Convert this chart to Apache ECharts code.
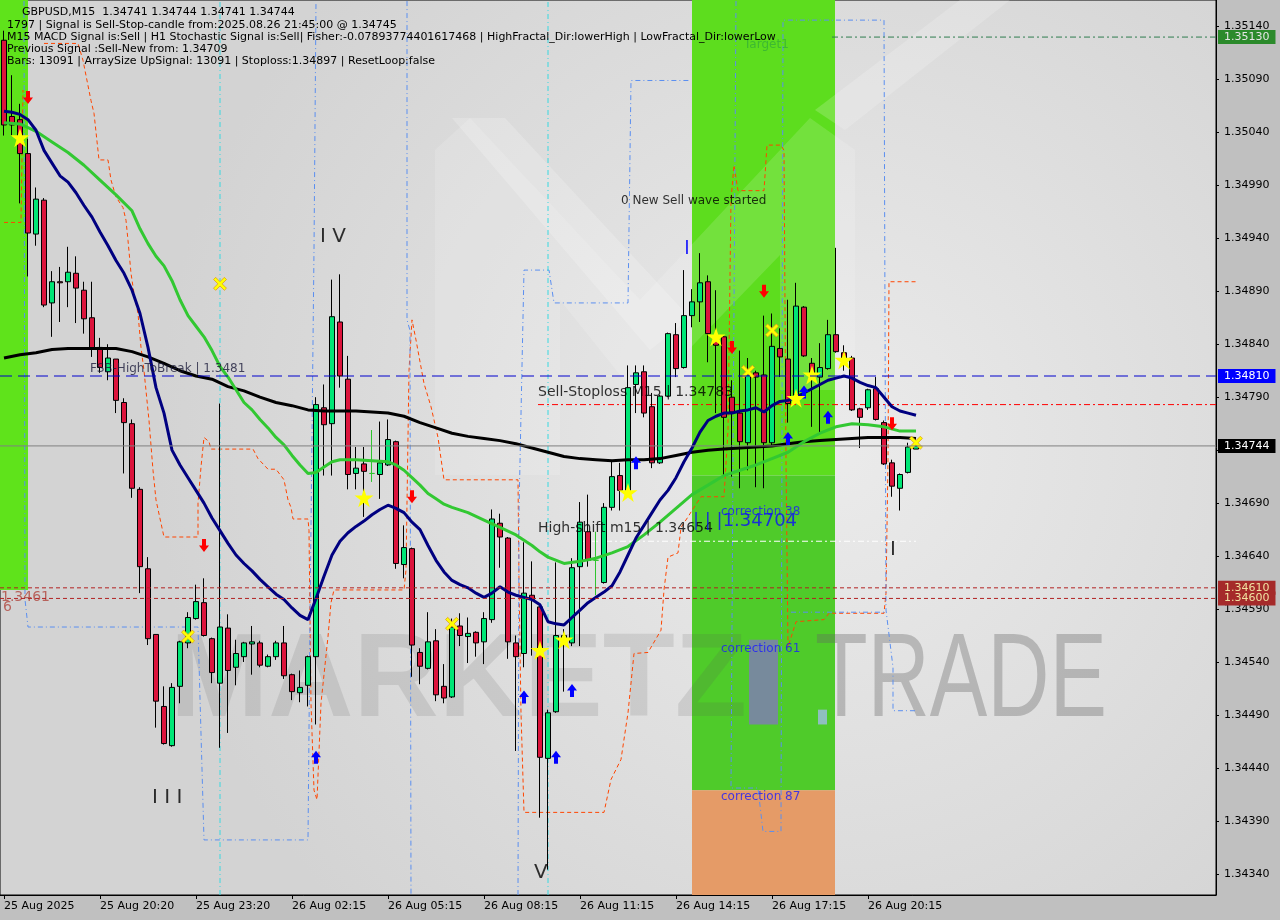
<!DOCTYPE html>
<html><head><meta charset="utf-8">
<script src="https://cdn.jsdelivr.net/npm/echarts@6/dist/echarts.min.js"></script>
<style>html,body{margin:0;padding:0;background:#c0c0c0;}#c{width:1280px;height:920px;}</style>
</head><body><div id="c"></div>
<script>
// ---------------- DATA ----------------
const xTickIdx = [0,12,24,36,48,60,72,84,96,108];
const xTickText = ['25 Aug 2025','25 Aug 20:20','25 Aug 23:20','26 Aug 02:15','26 Aug 05:15','26 Aug 08:15','26 Aug 11:15','26 Aug 14:15','26 Aug 17:15','26 Aug 20:15'];
const slotCount = 152;
const yTicks = [1.34340,1.34390,1.34440,1.34490,1.34540,1.34590,1.34640,1.34690,1.34740,1.34790,1.34840,1.34890,1.34940,1.34990,1.35040,1.35090,1.35140];
const yMin = 1.34320, yMax = 1.35165;

const O = [1.35127,1.35055,1.35052,1.35020,1.34944,1.34976,1.34879,1.34899,1.34899,1.34907,
1.34891,1.34865,1.34837,1.34814,1.34826,1.34785,1.34765,1.34703,1.34628,1.34566,
1.34498,1.34461,1.34517,1.34558,1.34581,1.34596,1.34562,1.34520,1.34572,1.34535,
1.34545,1.34557,1.34558,1.34536,1.34545,1.34558,1.34528,1.34511,1.34518,1.34545,
1.34780,1.34765,1.34861,1.34807,1.34718,1.34727,1.34718,1.34717,1.34726,1.34748,
1.34632,1.34647,1.34549,1.34534,1.34560,1.34517,1.34507,1.34574,1.34564,1.34568,
1.34559,1.34580,1.34671,1.34657,1.34558,1.34548,1.34603,1.34592,1.34449,1.34493,
1.34559,1.34558,1.34630,1.34663,1.34636,1.34615,1.34686,1.34716,1.34702,1.34802,
1.34814,1.34781,1.34728,1.34791,1.34849,1.34818,1.34867,1.34880,1.34899,1.34848,
1.34847,1.34790,1.34775,1.34747,1.34813,1.34811,1.34747,1.34836,1.34826,1.34792,
1.34875,1.34822,1.34809,1.34817,1.34849,1.34832,1.34827,1.34779,1.34780,1.34798,
1.34766,1.34728,1.34704,1.34719,1.34741];
const H = [1.35136,1.35094,1.35067,1.35034,1.34988,1.34978,1.34909,1.34913,1.34932,1.34923,
1.34899,1.34899,1.34846,1.34840,1.34826,1.34789,1.34769,1.34705,1.34639,1.34566,
1.34517,1.34520,1.34560,1.34587,1.34613,1.34619,1.34563,1.34784,1.34585,1.34561,
1.34559,1.34574,1.34560,1.34547,1.34560,1.34574,1.34529,1.34532,1.34546,1.34790,
1.34802,1.34901,1.34906,1.34829,1.34743,1.34743,1.34759,1.34767,1.34769,1.34749,
1.34669,1.34648,1.34553,1.34587,1.34571,1.34538,1.34581,1.34586,1.34582,1.34569,
1.34587,1.34684,1.34680,1.34658,1.34565,1.34653,1.34635,1.34593,1.34495,1.34634,
1.34571,1.34638,1.34691,1.34698,1.34663,1.34690,1.34729,1.34728,1.34820,1.34820,
1.34820,1.34794,1.34792,1.34851,1.34860,1.34910,1.34892,1.34926,1.34905,1.34891,
1.34848,1.34806,1.34834,1.34827,1.34815,1.34867,1.34869,1.34855,1.34882,1.34898,
1.34876,1.34827,1.34841,1.34863,1.34931,1.34839,1.34829,1.34780,1.34798,1.34809,
1.34768,1.34731,1.34718,1.34747,1.34744];
const L = [1.35037,1.35037,1.34973,1.34904,1.34933,1.34875,1.34847,1.34861,1.34875,1.34860,
1.34850,1.34828,1.34813,1.34806,1.34775,1.34718,1.34695,1.34605,1.34556,1.34478,
1.34462,1.34460,1.34501,1.34553,1.34580,1.34564,1.34520,1.34459,1.34473,1.34518,
1.34540,1.34528,1.34535,1.34535,1.34542,1.34524,1.34504,1.34502,1.34498,1.34481,
1.34716,1.34716,1.34799,1.34703,1.34703,1.34677,1.34710,1.34694,1.34725,1.34628,
1.34619,1.34526,1.34519,1.34533,1.34503,1.34501,1.34506,1.34555,1.34539,1.34545,
1.34538,1.34577,1.34629,1.34543,1.34456,1.34535,1.34546,1.34393,1.34344,1.34492,
1.34512,1.34555,1.34555,1.34630,1.34603,1.34614,1.34683,1.34683,1.34699,1.34775,
1.34771,1.34723,1.34727,1.34790,1.34809,1.34817,1.34856,1.34861,1.34823,1.34775,
1.34715,1.34715,1.34704,1.34721,1.34705,1.34704,1.34743,1.34809,1.34766,1.34790,
1.34828,1.34762,1.34756,1.34816,1.34832,1.34815,1.34777,1.34742,1.34778,1.34768,
1.34726,1.34696,1.34683,1.34718,1.34741];
const C = [1.35047,1.35047,1.35020,1.34945,1.34977,1.34877,1.34899,1.34898,1.34908,1.34893,
1.34864,1.34836,1.34818,1.34827,1.34787,1.34766,1.34704,1.34630,1.34562,1.34503,
1.34463,1.34516,1.34559,1.34582,1.34597,1.34565,1.34530,1.34573,1.34532,1.34548,
1.34558,1.34559,1.34537,1.34545,1.34558,1.34527,1.34512,1.34516,1.34545,1.34783,
1.34764,1.34866,1.34810,1.34717,1.34723,1.34720,1.34718,1.34728,1.34750,1.34633,
1.34648,1.34556,1.34536,1.34559,1.34509,1.34506,1.34573,1.34565,1.34567,1.34558,
1.34581,1.34675,1.34658,1.34559,1.34545,1.34605,1.34599,1.34450,1.34492,1.34565,
1.34565,1.34629,1.34672,1.34636,1.34636,1.34686,1.34715,1.34702,1.34799,1.34813,
1.34775,1.34728,1.34791,1.34850,1.34817,1.34867,1.34880,1.34898,1.34850,1.34839,
1.34771,1.34776,1.34748,1.34811,1.34809,1.34747,1.34838,1.34828,1.34784,1.34876,
1.34829,1.34811,1.34818,1.34849,1.34833,1.34827,1.34778,1.34771,1.34797,1.34769,
1.34727,1.34706,1.34717,1.34743,1.34744];

const navyMA = [1.35060,1.35059,1.35057,1.35052,1.35042,1.35023,1.35011,1.34999,1.34993,1.34983,
1.34971,1.34960,1.34946,1.34933,1.34919,1.34907,1.34891,1.34869,1.34837,1.34799,
1.34775,1.34740,1.34726,1.34714,1.34702,1.34690,1.34676,1.34664,1.34652,1.34641,
1.34633,1.34626,1.34618,1.34611,1.34604,1.34599,1.34591,1.34584,1.34580,1.34600,
1.34621,1.34641,1.34654,1.34662,1.34668,1.34673,1.34679,1.34684,1.34688,1.34685,
1.34681,1.34672,1.34665,1.34650,1.34636,1.34625,1.34617,1.34613,1.34610,1.34605,
1.34601,1.34605,1.34611,1.34606,1.34603,1.34601,1.34599,1.34594,1.34578,1.34576,
1.34575,1.34582,1.34589,1.34596,1.34601,1.34606,1.34612,1.34625,1.34641,1.34657,
1.34669,1.34681,1.34693,1.34702,1.34714,1.34729,1.34742,1.34757,1.34768,1.34772,
1.34775,1.34775,1.34777,1.34778,1.34780,1.34776,1.34782,1.34786,1.34787,1.34790,
1.34794,1.34798,1.34802,1.34806,1.34808,1.34810,1.34808,1.34804,1.34801,1.34799,
1.34790,1.34781,1.34777,1.34775,1.34773];

const greenMA = [[0,1.35049],[2,1.35048],[4,1.35041],[6,1.35031],[8,1.35021],[10,1.35009],[12,1.34995],[14,1.34981],[16,1.34966],[17,1.34949],[18,1.34935],[19,1.34923],[20,1.34914],[21,1.34900],[22,1.34882],[23,1.34867],[24,1.34857],[25,1.34847],[26,1.34834],[27,1.34819],[28,1.34809],[29,1.34797],[30,1.34785],[31,1.34778],[32,1.34769],[33,1.34761],[34,1.34752],[35,1.34745],[36,1.34735],[37,1.34726],[38,1.34718],[39,1.34719],[40,1.34724],[41,1.34729],[42,1.34731],[44,1.34731],[46,1.34730],[48,1.34729],[49,1.34726],[50,1.34721],[51,1.34714],[52,1.34707],[53,1.34699],[54,1.34694],[55,1.34689],[56,1.34686],[58,1.34681],[60,1.34674],[62,1.34667],[64,1.34660],[66,1.34650],[67,1.34644],[68,1.34639],[70,1.34633],[72,1.34635],[74,1.34638],[76,1.34643],[78,1.34649],[80,1.34660],[82,1.34672],[84,1.34685],[86,1.34698],[88,1.34707],[90,1.34716],[92,1.34721],[94,1.34726],[96,1.34732],[98,1.34738],[100,1.34748],[102,1.34756],[104,1.34762],[106,1.34765],[108,1.34764],[110,1.34762],[112,1.34758],[114,1.34758]];

const blackMA = [[0,1.34827],[2,1.34830],[4,1.34832],[6,1.34835],[8,1.34836],[12,1.34836],[14,1.34836],[16,1.34833],[18,1.34828],[20,1.34822],[22,1.34815],[24,1.34810],[26,1.34807],[28,1.34800],[30,1.34796],[32,1.34790],[34,1.34785],[36,1.34782],[38,1.34778],[40,1.34777],[42,1.34777],[44,1.34777],[46,1.34776],[48,1.34775],[50,1.34772],[52,1.34766],[54,1.34761],[56,1.34756],[58,1.34753],[60,1.34751],[62,1.34749],[64,1.34746],[66,1.34742],[68,1.34738],[70,1.34734],[72,1.34732],[74,1.34731],[76,1.34730],[78,1.34731],[80,1.34731],[82,1.34732],[84,1.34735],[86,1.34738],[88,1.34740],[90,1.34741],[92,1.34742],[94,1.34743],[96,1.34744],[98,1.34746],[100,1.34748],[102,1.34749],[104,1.34750],[106,1.34751],[108,1.34752],[112,1.34752],[114,1.34751]];

const orangeStepA = [[0,1.34955],[2.125,1.34955],[2.375,1.35080]];
const orangeStepB = [[5,1.35124],[9.25,1.35124],[9.875,1.35108],[10.875,1.35070],[11.25,1.35058],[11.875,1.35014],[13,1.35014],[13.375,1.34995],[14,1.34979],[14.875,1.34969],[15.25,1.34957],[15.5,1.34938],[15.875,1.34907],[16.25,1.34888],[16.75,1.34869],[17.125,1.34837],[17.5,1.34815],[18.125,1.34768],[18.625,1.34721],[19,1.34693],[19.625,1.34671],[20,1.34658],[24.25,1.34658],[24.25,1.34690],[24.625,1.34724],[25,1.34752],[25.625,1.34748],[25.875,1.34741],[31.125,1.34741],[31.75,1.34732],[33,1.34722],[34,1.34722],[35,1.34712],[35.5,1.34693],[35.875,1.34686],[36.125,1.34675],[38,1.34675],[38.125,1.34664],[38.375,1.34501],[38.75,1.34419],[39.125,1.34410],[39.625,1.34501],[40.5,1.34564],[40.875,1.34596],[41.25,1.34608],[50,1.34608],[50.25,1.34627],[50.625,1.34815],[51,1.34863],[51.5,1.34844],[52.5,1.34803],[53.375,1.34781],[54.25,1.34752],[55,1.34712],[64.25,1.34712],[64.375,1.34617],[64.625,1.34492],[65,1.34398],[75,1.34398],[75.875,1.34429],[77.125,1.34448],[78,1.34492],[78.75,1.34548],[80.5,1.34549],[82.125,1.34570],[82.5,1.34608],[83,1.34639],[84.25,1.34643],[84.625,1.34667],[85.5,1.34677],[86.25,1.34686],[87.125,1.34696],[90,1.34696],[90.5,1.34759],[90.875,1.34976],[91.25,1.35009],[91.75,1.34985],[95,1.34985],[95.375,1.35028],[97.125,1.35028],[97.5,1.35023],[97.75,1.34731],[98,1.34554],[99,1.34578],[102.5,1.34580],[103.125,1.34586],[110,1.34586],[110.25,1.34605],[110.5,1.34731],[110.625,1.34899],[114,1.34899]];

const blueStepA = [[2.5,1.35164],[2.625,1.34599],[3,1.34573],[24.25,1.34573],[25,1.34372],[38,1.34372],[38.25,1.34580],[38.75,1.34929],[39,1.35164]];
const blueStepB = [[50.375,1.35164],[50.375,1.34863],[50.75,1.34853],[50.875,1.34320]];
const blueStepC = [[64.25,1.34320],[64.375,1.34683],[65,1.34910],[68.125,1.34910],[68.75,1.34879],[78,1.34879],[78.375,1.35089],[85.875,1.35089]];
const blueStepD = [[91.5,1.35164],[91.125,1.34731],[90.875,1.34421],[94.25,1.34421],[94.875,1.34380],[97.125,1.34380],[97.375,1.35146],[110,1.35146],[110.25,1.34589],[111.125,1.34535],[111.125,1.34494],[114,1.34494]];
const blueStepE = [[98.375,1.34587],[110,1.34587]];

const cyanVerticals = [27, 68];

const levelPrice = [1.35130, 1.34810, 1.34783, 1.34744, 1.34654, 1.34610, 1.34600];
const levelFrom  = [103.5, -0.5, 66.75, -0.5, 71.75, -0.5, -0.5];
const levelTo    = [151.5, 151.5, 151.5, 151.5, 114, 151.5, 151.5];

// zones: [xFrom, xTo, priceLow, priceHigh]
const zones = [[-0.5,3,1.34608,1.35165],[86,103.875,1.34716,1.35165],[86,103.875,1.34419,1.34716],[86,103.875,1.34320,1.34419],[93.125,96.75,1.34481,1.34561],[101.75,102.875,1.34481,1.34495]];

const downArrows = [[3,1.35073],[25,1.34650],[51,1.34696],[91,1.34837],[95,1.34890],[111,1.34765]];
const upArrows = [[39,1.34450],[65,1.34507],[69,1.34450],[71,1.34513],[79,1.34728],[98,1.34751],[100,1.34795],[103,1.34771]];
const stars = [[2,1.35035],[45,1.34695],[67,1.34551],[70,1.34561],[78,1.34700],[89,1.34847],[99,1.34789],[101,1.34811],[105,1.34825]];
const crosses = [[27,1.34897],[23,1.34564],[56,1.34576],[93,1.34814],[96,1.34853],[114,1.34747]];

const annoText = ['I V','I I I','V','I','I','0 New Sell wave started','Sell-Stoploss M15 | 1.34783','High-shift m15 | 1.34654','FSB-HighToBreak | 1.3481','Target1','correction 38','correction 61','correction 87','| | |1.34704','1.3461','6'];
const annoX = [39.5,18.5,66.25,85,110.75,77.125,66.75,66.75,10.75,92.5,89.625,89.625,89.625,86.125,-0.375,-0.125];
const annoP = [1.34941,1.34412,1.34341,1.34930,1.34646,1.34975,1.34795,1.34666,1.34817,1.35123,1.34682,1.34552,1.34413,1.34673,1.34601,1.34592];

const headerLines = [
 'GBPUSD,M15  1.34741 1.34744 1.34741 1.34744',
 '1797 | Signal is Sell-Stop-candle from:2025.08.26 21:45:00 @ 1.34745',
 'M15 MACD Signal is:Sell | H1 Stochastic Signal is:Sell| Fisher:-0.07893774401617468 | HighFractal_Dir:lowerHigh | LowFractal_Dir:lowerLow',
 'Previous Signal :Sell-New from: 1.34709',
 'Bars: 13091 | ArraySize UpSignal: 13091 | Stoploss:1.34897 | ResetLoop:false'
];

// ---------------- STYLE / BUILD ----------------
const FONT = 'DejaVu Sans';
const cats = Array.from({length: slotCount}, (_, i) => String(i));
const tickLabelAt = {};
xTickIdx.forEach((idx, k) => { tickLabelAt[idx] = xTickText[k]; });

const zoneColors = ['#5fe31b', '#5ddd1e', '#4fcb2a', '#e59b67', '#778a9c', '#8fbfbf'];
const levelStyles = [
  {color:'#2e7d4f', type:[6,3,2,3], tag:{bg:'#2b8a2b', fg:'#e4e4e4'}},
  {color:'#0000cd', type:[12,6], tag:{bg:'#0000ff', fg:'#ffffff'}},
  {color:'#ff0000', type:[6,3,2,3]},
  {color:'#808080', type:'solid', tag:{bg:'#000000', fg:'#ffffff'}},
  {color:'#ffffff', type:[6,3,2,3]},
  {color:'#b22222', type:[4,3], tag:{bg:'#a52a2a', fg:'#f0e0a0'}},
  {color:'#b22222', type:[4,3], tag:{bg:'#a52a2a', fg:'#f0e0a0'}}
];
const annoStyles = [
  {color:'#000', fontSize:20}, {color:'#000', fontSize:20}, {color:'#000', fontSize:20},
  {color:'#0000ff', fontSize:20}, {color:'#000', fontSize:20},
  {color:'#000', fontSize:12}, {color:'#000', fontSize:14}, {color:'#000', fontSize:14},
  {color:'#1a1a3a', fontSize:12}, {color:'#36b036', fontSize:12},
  {color:'#1a1aff', fontSize:12}, {color:'#1a1aff', fontSize:12}, {color:'#1a1aff', fontSize:12},
  {color:'#0a0aff', fontSize:18}, {color:'#b0473e', fontSize:14}, {color:'#b0473e', fontSize:14}
];

function line(pts, color, width, type, z) {
  return {type:'line', xAxisIndex:1, yAxisIndex:0, data: pts, showSymbol:false, symbol:'none',
    silent:true, z: z, clip:true, lineStyle:{color: color, width: width, type: type}};
}

const series = [];
series.push({
  type:'custom', xAxisIndex:1, yAxisIndex:0, z:1, silent:true, data: zones,
  encode:{x:[0,1], y:[2,3]},
  renderItem: function(params, api) {
    const p1 = api.coord([api.value(0), api.value(3)]);
    const p2 = api.coord([api.value(1), api.value(2)]);
    return {type:'rect', shape:{x:p1[0], y:p1[1], width:p2[0]-p1[0], height:p2[1]-p1[1]},
      style:{fill: zoneColors[params.dataIndex]}};
  }
});
[orangeStepA, orangeStepB].forEach(s => series.push(line(s, '#ff4500', 1, [4,3], 3)));
[blueStepA, blueStepB, blueStepC, blueStepD, blueStepE].forEach(s => series.push(line(s, '#5b8ff0', 1, [5,3,1,3], 3)));
cyanVerticals.forEach(x => series.push(line([[x, yMin],[x, yMax]], '#38d8e0', 1, [5,3,1,3], 3)));
levelPrice.forEach((p, k) => {
  const st = levelStyles[k];
  const s = line([[levelFrom[k], p],[levelTo[k], p]], st.color, 1, st.type, 3);
  if (st.tag) {
    s.z = 8;
    s.endLabel = {show:true, formatter: () => p.toFixed(5), color: st.tag.fg, backgroundColor: st.tag.bg,
      padding:[1,6,1,6], fontFamily: FONT, fontSize:11, lineHeight:12, distance:2};
  }
  series.push(s);
});
series.push({
  type:'candlestick', xAxisIndex:0, yAxisIndex:0, z:4, barWidth:5, silent:true,
  data: O.map((o, i) => [o, C[i], L[i], H[i]]),
  itemStyle:{color:'#00e676', color0:'#dc143c', borderColor:'#000', borderColor0:'#000', borderColorDoji:'#2fc52f', borderWidth:1}
});
series.push(line(blackMA, '#000000', 3, 'solid', 5));
series.push(line(greenMA, '#32c832', 3, 'solid', 5));
series.push(line(navyMA.map((v, i) => [i, v]), '#000080', 3, 'solid', 5));
function marks(pts, symbol, size, color, border) {
  return {type:'scatter', xAxisIndex:1, yAxisIndex:0, z:6, silent:true, data: pts, symbol: symbol, symbolSize: size,
    itemStyle:{color: color, borderColor: border || color, borderWidth: border ? 0.8 : 0, opacity:1}};
}
series.push(marks(downArrows, 'path://M3,0L7,0L7,6L10,6L5,12L0,6L3,6Z', [10,13], '#ff0000'));
series.push(marks(upArrows, 'path://M5,0L10,6L7,6L7,12L3,12L3,6L0,6Z', [10,13], '#0000ff'));
series.push(marks(stars, 'path://M50,2L61,37L98,37L68,59L79,95L50,73L21,95L32,59L2,37L39,37Z', 19, '#ffff00'));
series.push(marks(crosses, 'path://M0,2L2,0L6,4L10,0L12,2L8,6L12,10L10,12L6,8L2,12L0,10L4,6Z', 13, '#ffff00', '#e0a020'));
series.push({
  type:'scatter', xAxisIndex:1, yAxisIndex:0, z:7, silent:true, symbolSize:0,
  data: annoText.map((t, k) => ({value:[annoX[k], annoP[k]],
    label:{show:true, position:'right', distance:0, formatter: t, color: annoStyles[k].color,
      fontSize: annoStyles[k].fontSize, fontFamily: FONT}}))
});

const graphics = [];
graphics.push({type:'polygon', z:2, silent:true, shape:{points:[[435,150],[470,118],[640,300],[810,118],[855,150],[855,390],[780,390],[780,255],[640,400],[560,300],[560,475],[435,475]]}, style:{fill:'rgba(255,255,255,0.14)'}});
graphics.push({type:'polygon', z:2, silent:true, shape:{points:[[452,118],[505,118],[690,318],[650,350]]}, style:{fill:'rgba(255,255,255,0.2)'}});
graphics.push({type:'polygon', z:2, silent:true, shape:{points:[[815,110],[960,0],[1010,0],[845,130]]}, style:{fill:'rgba(255,255,255,0.18)'}});
graphics.push({type:'text', z:2, silent:true, x:170, y:683, style:{text:'MARKETZ', font:'bold 118px "Liberation Sans"', fill:'rgba(90,90,90,0.15)', verticalAlign:'middle'}});
graphics.push({type:'text', z:2, silent:true, x:815, y:683, scaleX:0.73, style:{text:'TRADE', font:'118px "Liberation Sans"', fill:'rgba(100,100,100,0.35)', verticalAlign:'middle'}});
const headerY = [12, 25, 37, 49, 61];
headerLines.forEach((t, k) => graphics.push({type:'text', z:9, silent:true, x: k === 0 ? 22 : 7, y: headerY[k],
  style:{text:t, font:'11px "DejaVu Sans"', fill:'#000', verticalAlign:'middle'}}));

const option = {
  animation:false,
  backgroundColor:'#c0c0c0',
  grid:{left:0, right:64, top:0, bottom:25, show:true, borderColor:'#000', borderWidth:1,
    backgroundColor:{type:'radial', x:0.68, y:0.5, r:0.75, colorStops:[{offset:0, color:'#ebebeb'},{offset:1, color:'#d3d3d3'}]}},
  xAxis:[
    {type:'category', data:cats, boundaryGap:true, gridIndex:0,
     axisLine:{show:true, lineStyle:{color:'#000', width:1}},
     axisTick:{show:true, alignWithLabel:true, length:4, interval:(i) => tickLabelAt[i] !== undefined, lineStyle:{color:'#000'}},
     axisLabel:{show:true, interval:(i) => tickLabelAt[i] !== undefined, formatter:(v, i) => tickLabelAt[i] || '',
       align:'left', margin:6, color:'#000', fontFamily:FONT, fontSize:11},
     splitLine:{show:false}, minorTick:{show:false}},
    {type:'value', min:-0.5, max:slotCount - 0.5, show:false, gridIndex:0, splitLine:{show:false},
     axisTick:{show:false}, axisLine:{show:false}, axisLabel:{show:false}}
  ],
  yAxis:{type:'value', position:'right', min:yMin, max:yMax,
    axisLine:{show:true, onZero:false, lineStyle:{color:'#000'}},
    axisTick:{show:true, inside:false, length:3, customValues:yTicks, lineStyle:{color:'#000'}},
    axisLabel:{show:true, inside:false, customValues:yTicks, formatter:(v) => v.toFixed(5), margin:8, color:'#000', fontFamily:FONT, fontSize:11},
    splitLine:{show:false}, minorTick:{show:false}, minorSplitLine:{show:false}},
  graphic:{elements: graphics},
  series: series
};
const chart = echarts.init(document.getElementById('c'), null, {width:1280, height:920});
chart.setOption(option);
</script>
</body></html>
